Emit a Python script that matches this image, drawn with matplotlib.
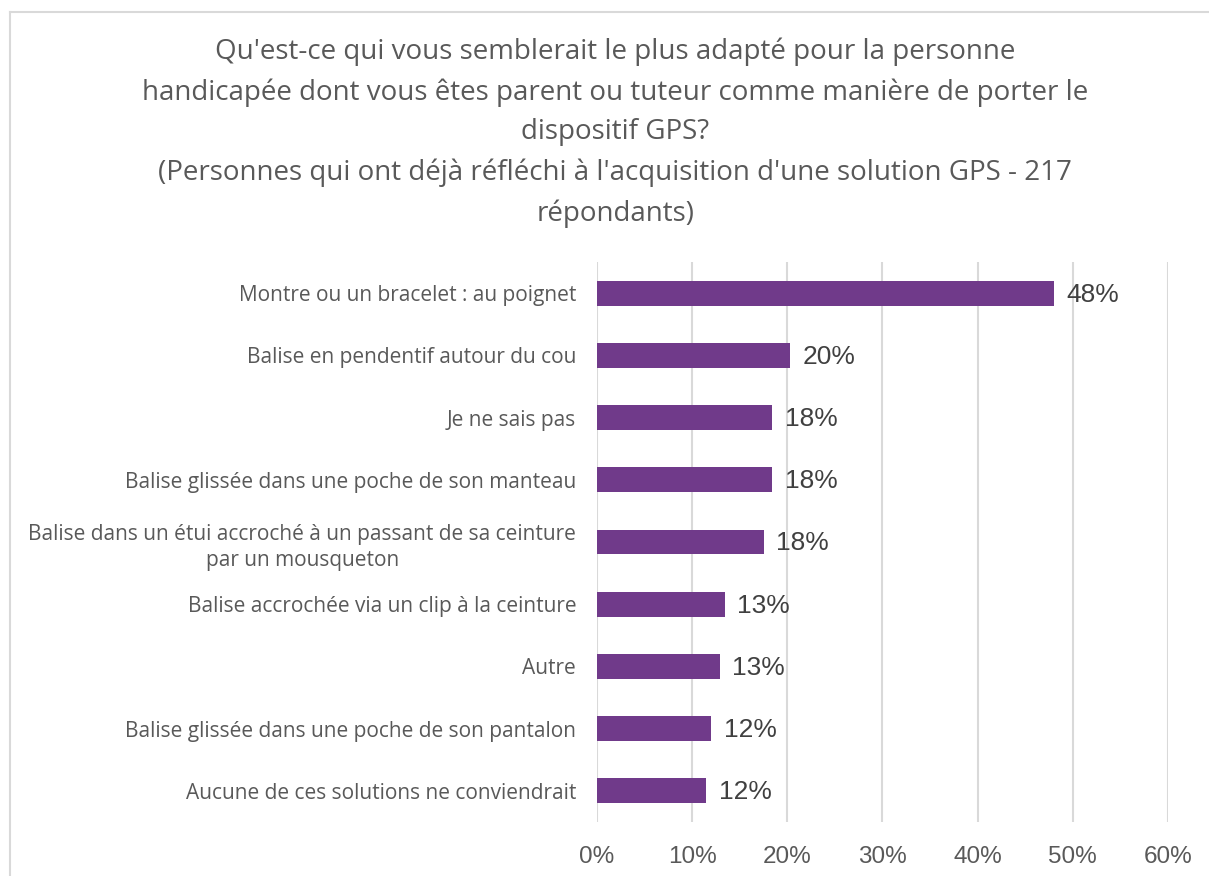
import matplotlib.pyplot as plt
from matplotlib.lines import Line2D

categories = [
    "Montre ou un bracelet : au poignet",
    "Balise en pendentif autour du cou",
    "Je ne sais pas",
    "Balise glissée dans une poche de son manteau",
    "Balise dans un étui accroché à un passant de sa ceinture\npar un mousqueton",
    "Balise accrochée via un clip à la ceinture",
    "Autre",
    "Balise glissée dans une poche de son pantalon",
    "Aucune de ces solutions ne conviendrait",
]
values = [48.0, 20.3, 18.4, 18.4, 17.5, 13.4, 12.9, 12.0, 11.5]
labels = ["48%", "20%", "18%", "18%", "18%", "13%", "13%", "12%", "12%"]
xticks = [0, 10, 20, 30, 40, 50, 60]

title = ("Qu'est-ce qui vous semblerait le plus adapté pour la personne\n"
         "handicapée dont vous êtes parent ou tuteur comme manière de porter le\n"
         "dispositif GPS?\n"
         "(Personnes qui ont déjà réfléchi à l'acquisition d'une solution GPS - 217\n"
         "répondants)")

gray = "#595959"
bar_color = "#703A8A"

fig = plt.figure(figsize=(12.09, 8.76), dpi=100)
ax = fig.add_axes([0.4938, 0.0616, 0.4722, 0.6393])

y = list(range(len(categories)))
ax.barh(y, values, height=0.4, color=bar_color, zorder=3)

for yi, v, lab in zip(y, values, labels):
    ax.annotate(lab, (v, yi), xytext=(9, -1), textcoords="offset points",
                va="center", ha="left", fontsize=19, color="#404040",
                family="Liberation Sans")

ax.set_xlim(0, 60)
ax.set_ylim(len(categories) - 0.5, -0.5)
ax.set_xticks(xticks)
ax.set_xticklabels([f"{t}%" for t in xticks], fontsize=17.5, color=gray,
                   family="Liberation Sans")
ax.set_yticks(y)
ax.set_yticklabels(categories, fontsize=15, color=gray, family="Open Sans",
                   multialignment="center", linespacing=1.35)
ax.tick_params(axis="both", length=0)
ax.tick_params(axis="x", pad=17)
ax.tick_params(axis="y", pad=15)
ax.grid(axis="x", color="#D9D9D9", linewidth=1.5, zorder=0)
for s in ax.spines.values():
    s.set_visible(False)

fig.text(0.509, 0.957, title, ha="center", va="top", fontsize=20,
         color=gray, family="Open Sans", linespacing=1.56)

# outer chart border (top and left)
fig.add_artist(Line2D([10 / 1209, 1], [1 - 12 / 876, 1 - 12 / 876],
                      transform=fig.transFigure, color="#D9D9D9", lw=1.5))
fig.add_artist(Line2D([10 / 1209, 10 / 1209], [0, 1 - 12 / 876],
                      transform=fig.transFigure, color="#D9D9D9", lw=1.5))

fig.savefig("out.png", dpi=100)
